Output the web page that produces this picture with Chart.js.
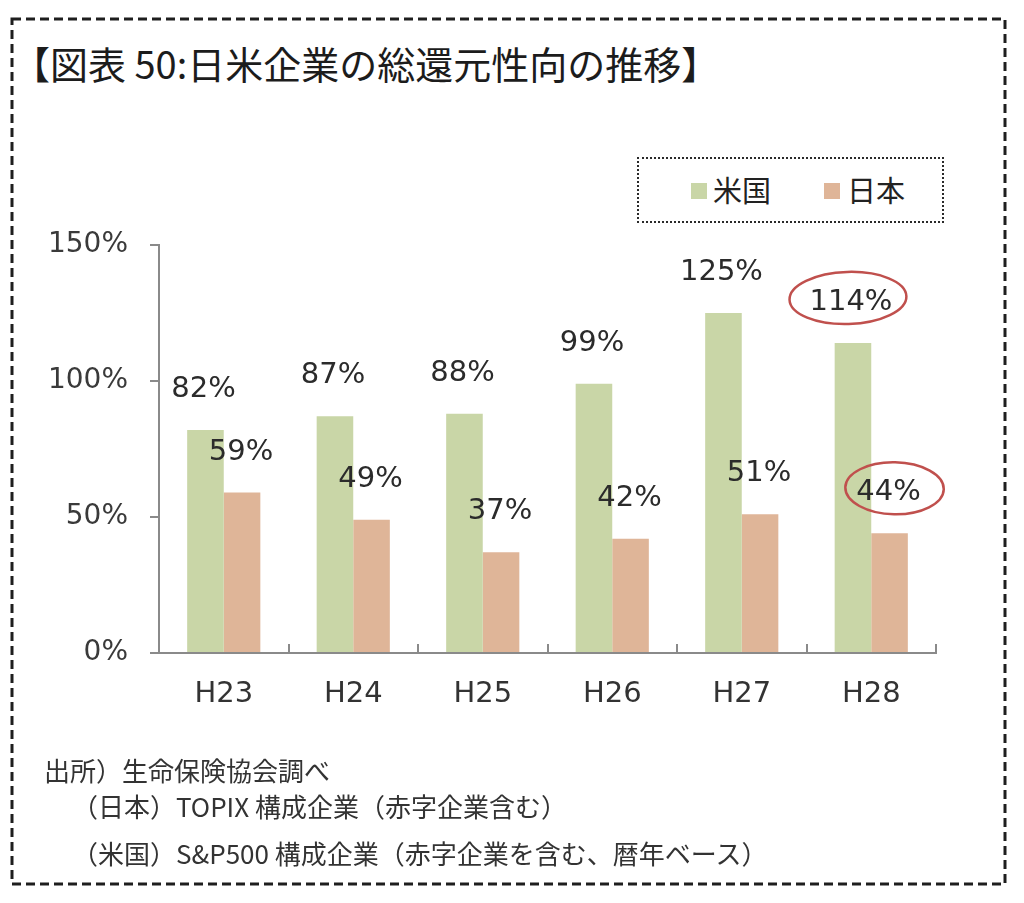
<!DOCTYPE html>
<html lang="ja">
<head>
<meta charset="utf-8">
<script src="https://cdn.jsdelivr.net/npm/chart.js@4.4.1/dist/chart.umd.min.js"></script>
<style>
  html, body { margin: 0; padding: 0; background: #fff; }
  #page { position: relative; width: 1024px; height: 903px; overflow: hidden; font-family: "Noto Sans CJK JP", sans-serif; color: #222; }
  #frame, #chart { position: absolute; left: 0; top: 0; }
  .title { position: absolute; left: 12px; top: 44px; font-size: 38px; line-height: 1; white-space: nowrap; color: #1c1c1c; }
  .legend { position: absolute; left: 637px; top: 157px; width: 307px; height: 66px; border: 2.5px dotted #2a2a2a; box-sizing: border-box; }
  .legend .item { position: absolute; top: 16px; font-size: 29px; line-height: 1; white-space: nowrap; color: #222; }
  .legend .swatch { position: absolute; top: 10px; width: 16px; height: 16px; }
  .note { position: absolute; font-size: 26px; line-height: 1; white-space: nowrap; color: #333; }
</style>
</head>
<body>
<div id="page">
  <svg id="frame" width="1024" height="903">
    <rect x="12" y="19" width="993" height="865" fill="none" stroke="#1e1e1e" stroke-width="3" stroke-dasharray="9 5"></rect>
  </svg>
  <div class="title">【図表 50:日米企業の総還元性向の推移】</div>
  <div class="legend" id="legend"></div>
  <canvas id="chart" width="1024" height="903"></canvas>
  <div class="note" style="left:44px; top:757px;">出所）生命保険協会調べ</div>
  <div class="note" style="left:72px; top:793px;">（日本）TOPIX 構成企業（赤字企業含む）</div>
  <div class="note" style="left:72px; top:840px;">（米国）S&amp;P500 構成企業（赤字企業を含む、暦年ベース）</div>
</div>
<script>
  const categories = ["H23", "H24", "H25", "H26", "H27", "H28"];
  const seriesNames = ["米国", "日本"];
  const usValues = [82, 87, 88, 99, 125, 114];
  const jpValues = [59, 49, 37, 42, 51, 44];
  const yTicks = [0, 50, 100, 150];
  const circledIndex = 5;

  const colors = ["#c9d6a7", "#dfb598"];

  // legend drawn in html, dotted box like the original
  const legendHost = document.querySelector("#legend");
  const legendSpots = [[52, 74], [185, 208]];
  seriesNames.forEach((name, i) => {
    const sw = document.createElement("div");
    sw.className = "swatch";
    sw.style.left = legendSpots[i][0] + "px";
    sw.style.top = "24px";
    sw.style.background = colors[i];
    legendHost.appendChild(sw);
    const tx = document.createElement("div");
    tx.className = "item";
    tx.style.left = legendSpots[i][1] + "px";
    tx.textContent = name;
    legendHost.appendChild(tx);
  });

  const valueLabels = {
    id: "valueLabels",
    afterDatasetsDraw(chart) {
      const { ctx } = chart;
      ctx.save();
      ctx.font = '29px "DejaVu Sans"';
      ctx.fillStyle = "#2b2b2b";
      ctx.textAlign = "center";
      ctx.textBaseline = "alphabetic";
      chart.data.datasets.forEach((ds, di) => {
        const meta = chart.getDatasetMeta(di);
        meta.data.forEach((bar, i) => {
          const text = `${ds.data[i]}%`;
          const tx = bar.x + (di === 0 ? -2 : -1);
          const ty = bar.y - 33;
          ctx.fillText(text, tx, ty);
          if (i === circledIndex) {
            const w = ctx.measureText(text).width;
            ctx.beginPath();
            ctx.ellipse(tx + (di === 0 ? -3 : 6), ty - 12, w / 2 + 17, 26, di === 0 ? -0.03 : 0.02, 0, Math.PI * 2);
            ctx.strokeStyle = "#c0504d";
            ctx.lineWidth = 2.5;
            ctx.stroke();
          }
        });
      });
      ctx.restore();
    },
  };

  new Chart(document.querySelector("#chart"), {
    type: "bar",
    data: {
      labels: categories,
      datasets: [
        { label: seriesNames[0], data: usValues, backgroundColor: colors[0], borderWidth: 0 },
        { label: seriesNames[1], data: jpValues, backgroundColor: colors[1], borderWidth: 0 },
      ],
    },
    options: {
      responsive: false,
      animation: false,
      devicePixelRatio: 1,
      categoryPercentage: 0.565,
      barPercentage: 1,
      layout: { padding: { top: 245, left: 20, right: 88, bottom: 190 } },
      plugins: {
        legend: { display: false },
        tooltip: { enabled: false },
      },
      scales: {
        x: {
          afterFit: (scale) => { scale.height = 60; },
          grid: { display: true, drawOnChartArea: false, drawTicks: true, tickLength: -9, color: "#8a8a8a", lineWidth: 2, offset: true },
          border: { display: true, color: "#8a8a8a", width: 2 },
          ticks: { color: "#333", padding: 33, font: { family: "DejaVu Sans", size: 29 } },
        },
        y: {
          min: 0,
          max: 150,
          afterFit: (scale) => { scale.width = 139; },
          afterBuildTicks: (scale) => { scale.ticks = yTicks.map((v) => ({ value: v })); },
          grid: { display: true, drawOnChartArea: false, drawTicks: true, tickLength: 9, color: "#8a8a8a", lineWidth: 2 },
          border: { display: true, color: "#8a8a8a", width: 2 },
          ticks: { color: "#3a3a3a", padding: 22, font: { family: "DejaVu Sans", size: 28 }, callback: (v) => `${v}%` },
        },
      },
    },
    plugins: [valueLabels],
  });
</script>
</body>
</html>
